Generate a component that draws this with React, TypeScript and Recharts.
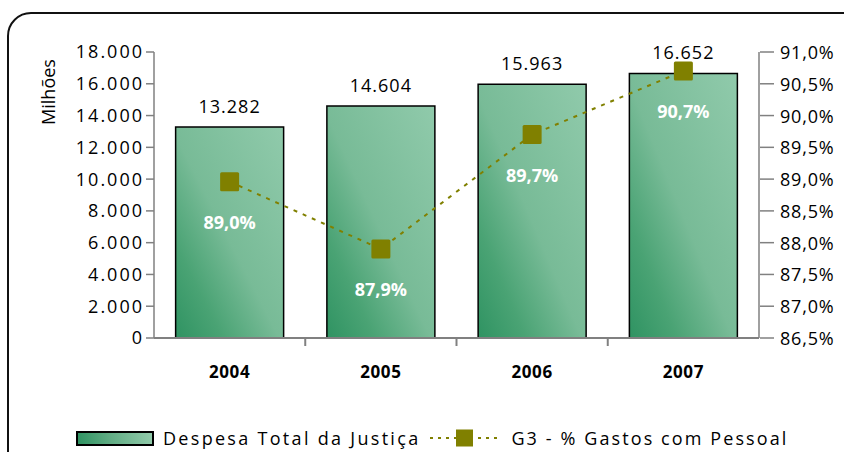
import React from "react";
import {
  ComposedChart,
  Bar,
  Line,
  XAxis,
  YAxis,
  LabelList,
} from "recharts";

const years = ["2004", "2005", "2006", "2007"];
const despesaTotal = [13282, 14604, 15963, 16652];
const gastosPessoal = [88.96, 87.9, 89.7, 90.7];
const leftTicks = [0, 2000, 4000, 6000, 8000, 10000, 12000, 14000, 16000, 18000];
const rightTicks = [86.5, 87, 87.5, 88, 88.5, 89, 89.5, 90, 90.5, 91];

const data = years.map((y, i) => ({
  year: y,
  despesa: despesaTotal[i],
  pessoal: gastosPessoal[i],
}));

const FONT = "'Open Sans', 'Noto Sans', sans-serif";
const OLIVE = "#808000";

const fmtThousands = (v: number) =>
  String(Math.round(v)).replace(/\B(?=(\d{3})+(?!\d))/g, ".");
const fmtPct = (v: number) => v.toFixed(1).replace(".", ",") + "%";

const SquareDot = (props: any) => {
  const { cx, cy } = props;
  if (cx == null || cy == null) return null;
  return (
    <rect x={cx - 9.5} y={cy - 9.5} width={19} height={19} rx={1.5} fill={OLIVE} />
  );
};

const PctLabel = (props: any) => {
  const { x, y, value } = props;
  return (
    <text
      x={x}
      y={y + 40}
      textAnchor="middle"
      dominantBaseline="central"
      fill="#ffffff"
      fontWeight="bold"
      fontSize={18}
      fontFamily={FONT}
    >
      {fmtPct(value)}
    </text>
  );
};

const BarTopLabel = (props: any) => {
  const { x, y, width, value } = props;
  return (
    <text
      x={x + width / 2}
      y={y - 21}
      textAnchor="middle"
      dominantBaseline="central"
      fill="#000"
      fontSize={18}
      letterSpacing={1}
      fontFamily={FONT}
    >
      {fmtThousands(value)}
    </text>
  );
};

const YearTick = (props: any) => {
  const { x, y, payload, index } = props;
  const band = 605 / 4;
  return (
    <g>
      {index > 0 && (
        <line
          x1={x - band / 2}
          x2={x - band / 2}
          y1={y - 8}
          y2={y}
          stroke="#808080"
          strokeWidth={2}
        />
      )}
      <text
        x={x}
        y={y + 32}
        textAnchor="middle"
        fill="#000"
        fontSize={17}
        fontWeight="bold"
        letterSpacing={0.6}
        fontFamily={FONT}
      >
        {payload.value}
      </text>
    </g>
  );
};

export default function App() {
  return (
    <div
      style={{
        position: "absolute",
        left: 0,
        top: 0,
        width: 844,
        height: 452,
        overflow: "hidden",
        background: "#fff",
        fontFamily: FONT,
      }}
    >
      <div
        style={{
          position: "absolute",
          left: 7,
          top: 12,
          width: 860,
          height: 470,
          border: "2px solid #111",
          borderRadius: 24,
          boxSizing: "border-box",
        }}
      />
      <div style={{ position: "absolute", left: 0, top: 0 }}>
        <ComposedChart
          width={844}
          height={452}
          data={data}
          margin={{ top: 52, right: 10, bottom: 74, left: 74 }}
          barCategoryGap="14.3%"
        >
          <defs>
            <linearGradient id="barGrad" x1="0" y1="1" x2="1" y2="0">
              <stop offset="0%" stopColor="#2f9362" />
              <stop offset="22%" stopColor="#4aa374" />
              <stop offset="48%" stopColor="#78bb97" />
              <stop offset="100%" stopColor="#90caab" />
            </linearGradient>
          </defs>
          <XAxis
            dataKey="year"
            axisLine={{ stroke: "#808080", strokeWidth: 2 }}
            tickLine={false}
            height={40}
            tick={<YearTick />}
          />
          <YAxis
            yAxisId="left"
            domain={[0, 18000]}
            ticks={leftTicks}
            interval={0}
            width={80}
            tickFormatter={fmtThousands}
            axisLine={{ stroke: "#808080", strokeWidth: 1.5 }}
            tickLine={{ stroke: "#808080", strokeWidth: 1.5 }}
            tickSize={8}
            tick={{ fill: "#000", fontSize: 18, fontFamily: FONT, letterSpacing: 2 }}
          />
          <YAxis
            yAxisId="right"
            orientation="right"
            domain={[86.5, 91]}
            ticks={rightTicks}
            interval={0}
            width={75}
            tickFormatter={fmtPct}
            axisLine={{ stroke: "#808080", strokeWidth: 1.5 }}
            tickLine={false}
            tick={(p: any) => (
              <g>
                <line
                  x1={p.x - 7}
                  x2={p.x + 7}
                  y1={p.y}
                  y2={p.y}
                  stroke="#808080"
                  strokeWidth={1.5}
                />
                <text
                  x={p.x + 13}
                  y={p.y}
                  dominantBaseline="central"
                  fill="#000"
                  fontSize={18}
                  letterSpacing={0.8}
                  fontFamily={FONT}
                >
                  {fmtPct(p.payload.value)}
                </text>
              </g>
            )}
          />
          <Bar
            yAxisId="left"
            dataKey="despesa"
            fill="url(#barGrad)"
            stroke="#000"
            strokeWidth={1.5}
            isAnimationActive={false}
          >
            <LabelList dataKey="despesa" content={BarTopLabel} />
          </Bar>
          <Line
            yAxisId="right"
            dataKey="pessoal"
            stroke={OLIVE}
            strokeWidth={2}
            strokeDasharray="4 6"
            dot={<SquareDot />}
            activeDot={false}
            isAnimationActive={false}
          >
            <LabelList dataKey="pessoal" content={PctLabel} />
          </Line>
          <text
            x={48}
            y={92}
            transform="rotate(-90 48 92)"
            textAnchor="middle"
            dominantBaseline="central"
            fill="#000"
            fontSize={18}
            fontFamily={FONT}
          >
            Milhões
          </text>
        </ComposedChart>
      </div>
      <div
        style={{
          position: "absolute",
          left: 76,
          top: 426,
          display: "flex",
          alignItems: "center",
          fontSize: 18,
          color: "#000",
          fontFamily: FONT,
          whiteSpace: "nowrap",
        }}
      >
        <div
          style={{
            width: 78,
            height: 15,
            border: "2px solid #000",
            background: "linear-gradient(80deg, #2f9362, #62ad85 45%, #92cbab)",
            boxSizing: "border-box",
            marginRight: 9,
          }}
        />
        <span style={{ letterSpacing: 2.3 }}>Despesa Total da Justiça</span>
        <svg width={68} height={20} style={{ marginLeft: 10, marginRight: 13 }}>
          <line
            x1={0}
            x2={68}
            y1={10}
            y2={10}
            stroke={OLIVE}
            strokeWidth={2}
            strokeDasharray="3 5"
          />
          <rect x={26} y={1.5} width={17} height={17} fill={OLIVE} />
        </svg>
        <span style={{ letterSpacing: 2.1 }}>G3 - % Gastos com Pessoal</span>
      </div>
    </div>
  );
}
